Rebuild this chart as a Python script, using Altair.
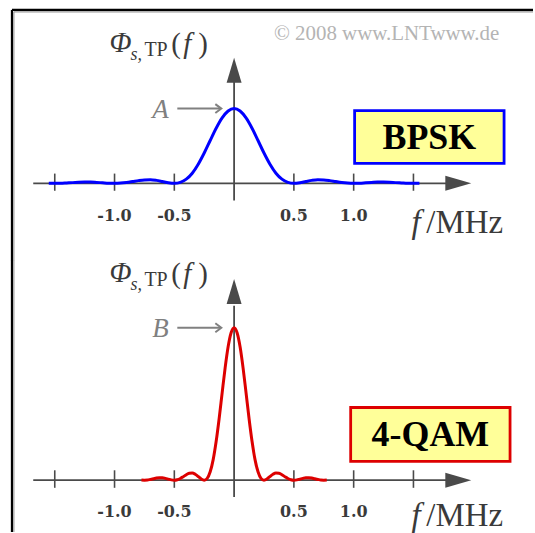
import altair as alt
import pandas as pd

# ---------------- data ----------------
bpsk_f = [-1.55, -1.5, -1.45, -1.4, -1.35, -1.3, -1.25, -1.2, -1.15, -1.1, -1.05,
          -1.0, -0.95, -0.9, -0.85, -0.8, -0.75, -0.7, -0.65, -0.6, -0.55,
          -0.5, -0.45, -0.4, -0.35, -0.3, -0.25, -0.2, -0.15, -0.1, -0.05,
          0.0, 0.05, 0.1, 0.15, 0.2, 0.25, 0.3, 0.35, 0.4, 0.45,
          0.5, 0.55, 0.6, 0.65, 0.7, 0.75, 0.8, 0.85, 0.9, 0.95,
          1.0, 1.05, 1.1, 1.15, 1.2, 1.25, 1.3, 1.35, 1.4, 1.45, 1.5, 1.55]
bpsk_phi = [0.001, 0.0, 0.001, 0.005, 0.009, 0.014, 0.016, 0.016, 0.012, 0.007, 0.002,
            0.0, 0.003, 0.011, 0.023, 0.036, 0.045, 0.047, 0.039, 0.024, 0.008,
            0.0, 0.012, 0.055, 0.135, 0.255, 0.405, 0.573, 0.737, 0.875, 0.967,
            1.0, 0.967, 0.875, 0.737, 0.573, 0.405, 0.255, 0.135, 0.055, 0.012,
            0.0, 0.008, 0.024, 0.039, 0.047, 0.045, 0.036, 0.023, 0.011, 0.003,
            0.0, 0.002, 0.007, 0.012, 0.016, 0.016, 0.014, 0.009, 0.005, 0.001, 0.0, 0.001]

qam_f = [-0.775, -0.75, -0.725, -0.7, -0.675, -0.65, -0.625, -0.6, -0.575, -0.55, -0.525,
         -0.5, -0.475, -0.45, -0.425, -0.4, -0.375, -0.35, -0.325, -0.3, -0.275,
         -0.25, -0.225, -0.2, -0.175, -0.15, -0.125, -0.1, -0.075, -0.05, -0.025,
         0.0, 0.025, 0.05, 0.075, 0.1, 0.125, 0.15, 0.175, 0.2, 0.225,
         0.25, 0.275, 0.3, 0.325, 0.35, 0.375, 0.4, 0.425, 0.45, 0.475,
         0.5, 0.525, 0.55, 0.575, 0.6, 0.625, 0.65, 0.675, 0.7, 0.725, 0.75, 0.775]
qam_phi = [0.002, 0.0, 0.002, 0.01, 0.018, 0.028, 0.032, 0.032, 0.024, 0.014, 0.004,
           0.0, 0.006, 0.022, 0.046, 0.072, 0.09, 0.094, 0.078, 0.048, 0.016,
           0.0, 0.024, 0.11, 0.27, 0.51, 0.81, 1.146, 1.474, 1.75, 1.934,
           2.0, 1.934, 1.75, 1.474, 1.146, 0.81, 0.51, 0.27, 0.11, 0.024,
           0.0, 0.016, 0.048, 0.078, 0.094, 0.09, 0.072, 0.046, 0.022, 0.006,
           0.0, 0.004, 0.014, 0.024, 0.032, 0.032, 0.028, 0.018, 0.01, 0.002, 0.0, 0.002]

tick_values = [-1.5, -1.0, -0.5, 0.5, 1.0, 1.5]
tick_labels = ["-1.0", "-0.5", "0.5", "1.0"]
tick_label_pos = [-1.0, -0.5, 0.5, 1.0]

SERIF = "Liberation Serif"
TICK_FONT = "DejaVu Serif"
AXIS_COL = "#4a4a4a"
TEXT_COL = "#3a3a3a"
GRAY = "#808080"
W = 535
XDOM = [-1.958, 2.5]

RIGHT_ARROW = "M -1 -0.58 L 1 0 L -1 0.58 Z"
UP_ARROW = "M -0.6 1 L 0 -1 L 0.6 1 Z"
CHEVRON = "M -1 -0.75 L 0 0 L -1 0.75"


def panel(curve_f, curve_v, color, height, ydom, p):
    xs = alt.Scale(domain=XDOM, nice=False, zero=False)
    ys = alt.Scale(domain=ydom, nice=False, zero=False)

    def X(field):
        return alt.X(field, type="quantitative", scale=xs, axis=None)

    def Y(field):
        return alt.Y(field, type="quantitative", scale=ys, axis=None)

    layers = []

    # frame (black with a gray inner shadow)
    frame = pd.DataFrame(p["frame"])
    for _, r in frame.iterrows():
        d = pd.DataFrame([r])
        layers.append(alt.Chart(d).mark_rule(color=r["c"], strokeWidth=float(r["w"])).encode(
            x=X("x"), x2="x2", y=Y("y"), y2="y2"))

    # axes lines and ticks
    rules = pd.DataFrame(p["rules"])
    layers.append(alt.Chart(rules).mark_rule(color=AXIS_COL, strokeWidth=1.8).encode(
        x=X("x"), x2="x2", y=Y("y"), y2="y2"))
    ticks = pd.DataFrame({"x": tick_values, "y": [p["tick_lo"]] * len(tick_values),
                          "y2": [p["tick_hi"]] * len(tick_values)})
    layers.append(alt.Chart(ticks).mark_rule(color=AXIS_COL, strokeWidth=1.6).encode(
        x=X("x"), y=Y("y"), y2="y2"))

    # arrow heads
    layers.append(alt.Chart(pd.DataFrame({"x": [p["xarrow"]], "y": [0.0]})).mark_point(
        shape=RIGHT_ARROW, filled=True, color=AXIS_COL, size=676, opacity=1).encode(
        x=X("x"), y=Y("y")))
    layers.append(alt.Chart(pd.DataFrame({"x": [0.0], "y": [p["yarrow"]]})).mark_point(
        shape=UP_ARROW, filled=True, color=AXIS_COL, size=625, opacity=1).encode(
        x=X("x"), y=Y("y")))

    # curve
    cdf = pd.DataFrame({"f": curve_f, "v": curve_v})
    layers.append(alt.Chart(cdf).mark_line(color=color, strokeWidth=3.0,
                                            interpolate="monotone").encode(
        x=X("f"), y=Y("v")))

    # tick labels
    tl = pd.DataFrame({"x": tick_label_pos, "t": tick_labels, "y": [p["tl_y"]] * 4})
    layers.append(alt.Chart(tl).mark_text(font=TICK_FONT, fontWeight="bold", fontSize=16,
                                          color=TEXT_COL, baseline="alphabetic").encode(
        x=X("x"), y=Y("y"), text="t:N"))

    # generic texts
    for t in p["texts"]:
        d = pd.DataFrame({"x": [t["x"]], "y": [t["y"]], "t": [t["t"]]})
        kw = dict(font=SERIF, fontSize=t.get("size", 16), color=t.get("color", TEXT_COL),
                  align=t.get("align", "left"), baseline=t.get("baseline", "alphabetic"))
        if "style" in t:
            kw["fontStyle"] = t["style"]
        if "weight" in t:
            kw["fontWeight"] = t["weight"]
        layers.append(alt.Chart(d).mark_text(**kw).encode(x=X("x"), y=Y("y"), text="t:N"))

    # peak marker arrow
    pa = p["peak_arrow"]
    layers.append(alt.Chart(pd.DataFrame({"x": [pa[0]], "x2": [pa[1]], "y": [pa[2]]})).mark_rule(
        color=GRAY, strokeWidth=2).encode(x=X("x"), x2="x2", y=Y("y")))
    layers.append(alt.Chart(pd.DataFrame({"x": [pa[1] + 0.005], "y": [pa[2]]})).mark_point(
        shape=CHEVRON, filled=False, color=GRAY, strokeWidth=2, size=144, opacity=1).encode(
        x=X("x"), y=Y("y")))

    # labelled box
    b = p["box"]
    bdf = pd.DataFrame({"x": [b["x"]], "x2": [b["x2"]], "y": [b["y"]], "y2": [b["y2"]]})
    layers.append(alt.Chart(bdf).mark_rect(fill="#ffff99", stroke=b["stroke"],
                                           strokeWidth=2.8).encode(
        x=X("x"), x2="x2", y=Y("y"), y2="y2"))
    tdf = pd.DataFrame({"x": [(b["x"] + b["x2"]) / 2], "y": [(b["y"] + b["y2"]) / 2],
                        "t": [b["t"]]})
    layers.append(alt.Chart(tdf).mark_text(font=SERIF, fontWeight="bold", fontSize=36,
                                           color="#000000", baseline="middle",
                                           align="center", dy=1).encode(
        x=X("x"), y=Y("y"), text="t:N"))

    return alt.layer(*layers).properties(width=W, height=height)


p1 = dict(
    frame={"x": [-1.858, -1.858, -1.842, -1.842], "x2": [-1.858, 2.5, -1.842, 2.5],
           "y": [2.32, 2.32, 2.295, 2.295], "y2": [-1.03, 2.32, -1.03, 2.295],
           "c": ["#000000", "#000000", "#9a9a9a", "#9a9a9a"], "w": [2.2, 2.2, 1.2, 1.2]},
    rules={"x": [-1.68, 0.0], "x2": [1.78, 0.0], "y": [0.0, -0.23], "y2": [0.0, 1.36]},
    tick_lo=-0.1, tick_hi=0.13, xarrow=1.875, yarrow=1.513, tl_y=-0.507,
    texts=[
        {"x": 1.483, "y": -0.667, "t": "f", "size": 33, "style": "italic"},
        {"x": 1.608, "y": -0.667, "t": "/MHz", "size": 33},
        {"x": -1.042, "y": 1.76, "t": "Φ", "size": 29, "style": "italic"},
        {"x": -0.867, "y": 1.653, "t": "s,", "size": 18, "style": "italic"},
        {"x": -0.75, "y": 1.707, "t": "TP", "size": 20},
        {"x": -0.525, "y": 1.747, "t": "(", "size": 29},
        {"x": -0.425, "y": 1.747, "t": "f", "size": 29, "style": "italic"},
        {"x": -0.30, "y": 1.747, "t": ")", "size": 29},
        {"x": -0.617, "y": 0.88, "t": "A", "size": 27, "style": "italic",
         "color": GRAY, "align": "center"},
        {"x": 0.333, "y": 1.92, "t": "© 2008 www.LNTwww.de", "size": 21, "color": "#b4b4b4"},
    ],
    peak_arrow=(-0.475, -0.112, 1.0),
    box={"x": 1.008, "x2": 2.258, "y": 0.973, "y2": 0.267, "stroke": "#0000ff", "t": "BPSK"},
)

p2 = dict(
    frame={"x": [-1.858, -1.842], "x2": [-1.858, -1.842],
           "y": [2.889, 2.889], "y2": [-0.68, -0.68],
           "c": ["#000000", "#9a9a9a"], "w": [2.2, 1.2]},
    rules={"x": [-1.68, 0.0], "x2": [1.78, 0.0], "y": [0.0, -0.222], "y2": [0.0, 2.29]},
    tick_lo=-0.1, tick_hi=0.13, xarrow=1.875, yarrow=2.477, tl_y=-0.484,
    texts=[
        {"x": 1.483, "y": -0.60, "t": "f", "size": 33, "style": "italic"},
        {"x": 1.608, "y": -0.60, "t": "/MHz", "size": 33},
        {"x": -1.042, "y": 2.601, "t": "Φ", "size": 29, "style": "italic"},
        {"x": -0.867, "y": 2.497, "t": "s,", "size": 18, "style": "italic"},
        {"x": -0.75, "y": 2.549, "t": "TP", "size": 20},
        {"x": -0.525, "y": 2.588, "t": "(", "size": 29},
        {"x": -0.425, "y": 2.588, "t": "f", "size": 29, "style": "italic"},
        {"x": -0.30, "y": 2.588, "t": ")", "size": 29},
        {"x": -0.617, "y": 1.882, "t": "B", "size": 27, "style": "italic",
         "color": GRAY, "align": "center"},
    ],
    peak_arrow=(-0.475, -0.112, 2.0),
    box={"x": 0.975, "x2": 2.308, "y": 0.954, "y2": 0.248, "stroke": "#dd0000", "t": "4-QAM"},
)

top = panel(bpsk_f, bpsk_phi, "#0000ff", 260, [-1.027, 2.44], p1)
bottom = panel(qam_f, qam_phi, "#dd0000", 273, [-0.68, 2.889], p2)

chart = alt.vconcat(top, bottom, spacing=0).properties(
    padding=0, bounds="flush", background="white",
).configure_view(strokeWidth=0)

chart.save("out.html", embed_options={"renderer": "svg", "actions": False})
